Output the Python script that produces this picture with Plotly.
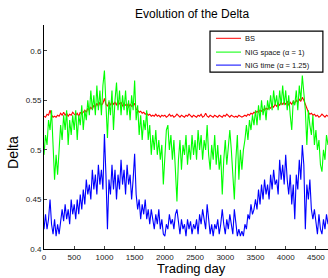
import plotly.graph_objects as go

step = 25
days = list(range(0, 4701, step))

bs = [
    0.534, 0.533, 0.536, 0.535, 0.540, 0.535, 0.533, 0.534, 0.533, 0.535, 0.534, 0.537, 0.535, 0.538, 0.535, 0.537, 0.534, 0.536, 0.535, 0.538,
    0.536, 0.535, 0.537, 0.534, 0.538, 0.536, 0.538, 0.540, 0.538, 0.542, 0.540, 0.543, 0.541, 0.545, 0.543, 0.547, 0.544, 0.548, 0.545, 0.547,
    0.552, 0.546, 0.544, 0.548, 0.545, 0.549, 0.546, 0.548, 0.545, 0.550, 0.546, 0.548, 0.544, 0.547, 0.545, 0.546, 0.543, 0.546, 0.544, 0.545,
    0.547, 0.541, 0.540, 0.538, 0.539, 0.537, 0.538, 0.536, 0.537, 0.535, 0.536, 0.534, 0.535, 0.534, 0.536, 0.534, 0.535, 0.533, 0.535, 0.534,
    0.535, 0.533, 0.534, 0.536, 0.534, 0.535, 0.533, 0.534, 0.536, 0.534, 0.533, 0.535, 0.534, 0.533, 0.535, 0.534, 0.536, 0.534, 0.533, 0.535,
    0.534, 0.533, 0.535, 0.534, 0.536, 0.533, 0.534, 0.537, 0.534, 0.533, 0.535, 0.534, 0.533, 0.535, 0.534, 0.533, 0.535, 0.534, 0.533, 0.535,
    0.534, 0.536, 0.534, 0.533, 0.535, 0.534, 0.533, 0.534, 0.533, 0.535, 0.534, 0.533, 0.534, 0.535, 0.534, 0.536, 0.535, 0.537, 0.536, 0.538,
    0.537, 0.539, 0.538, 0.540, 0.539, 0.541, 0.540, 0.542, 0.541, 0.543, 0.542, 0.545, 0.543, 0.546, 0.544, 0.547, 0.545, 0.548, 0.546, 0.548,
    0.546, 0.549, 0.545, 0.548, 0.546, 0.549, 0.547, 0.550, 0.548, 0.551, 0.549, 0.553, 0.550, 0.546, 0.540, 0.538, 0.536, 0.537, 0.535, 0.536,
    0.534, 0.535, 0.533, 0.534, 0.536, 0.534, 0.533, 0.535, 0.534,
]

nig_space = [
    0.495, 0.515, 0.505, 0.530, 0.520, 0.540, 0.505, 0.470, 0.495, 0.475, 0.500, 0.525, 0.510, 0.535, 0.520, 0.540, 0.505, 0.530, 0.515, 0.535,
    0.520, 0.540, 0.510, 0.535, 0.525, 0.545, 0.520, 0.540, 0.530, 0.550, 0.535, 0.560, 0.540, 0.555, 0.535, 0.565, 0.540, 0.560, 0.535, 0.565,
    0.580, 0.540, 0.512, 0.550, 0.535, 0.560, 0.520, 0.550, 0.568, 0.540, 0.560, 0.535, 0.555, 0.540, 0.560, 0.535, 0.550, 0.530, 0.555, 0.540,
    0.570, 0.530, 0.545, 0.515, 0.535, 0.510, 0.530, 0.520, 0.540, 0.510, 0.525, 0.495, 0.515, 0.500, 0.520, 0.495, 0.510, 0.490, 0.505, 0.465,
    0.500, 0.520, 0.525, 0.500, 0.515, 0.490, 0.510, 0.480, 0.448, 0.490, 0.510, 0.480, 0.505, 0.495, 0.515, 0.485, 0.505, 0.490, 0.515, 0.495,
    0.510, 0.490, 0.520, 0.500, 0.515, 0.490, 0.510, 0.500, 0.525, 0.495, 0.480, 0.505, 0.490, 0.515, 0.485, 0.505, 0.480, 0.495, 0.455, 0.490,
    0.510, 0.485, 0.505, 0.520, 0.500, 0.475, 0.450, 0.490, 0.515, 0.470, 0.500, 0.480, 0.500, 0.510, 0.525, 0.510, 0.530, 0.520, 0.535, 0.525,
    0.540, 0.525, 0.545, 0.530, 0.550, 0.535, 0.545, 0.530, 0.550, 0.540, 0.555, 0.540, 0.560, 0.545, 0.555, 0.540, 0.560, 0.545, 0.565, 0.545,
    0.560, 0.540, 0.555, 0.535, 0.520, 0.550, 0.545, 0.560, 0.540, 0.565, 0.550, 0.575, 0.560, 0.540, 0.505, 0.540, 0.525, 0.515, 0.535, 0.505,
    0.520, 0.500, 0.510, 0.485, 0.478, 0.500, 0.490, 0.515, 0.505,
]

nig_time = [
    0.420, 0.435, 0.420, 0.430, 0.450, 0.425, 0.415, 0.430, 0.413, 0.425, 0.415, 0.430, 0.440, 0.428, 0.445, 0.430, 0.440, 0.425, 0.450, 0.435,
    0.445, 0.430, 0.450, 0.435, 0.455, 0.440, 0.460, 0.445, 0.470, 0.455, 0.465, 0.450, 0.480, 0.460, 0.475, 0.455, 0.485, 0.465, 0.480, 0.460,
    0.516, 0.475, 0.420, 0.470, 0.455, 0.485, 0.460, 0.480, 0.450, 0.475, 0.460, 0.490, 0.465, 0.480, 0.455, 0.485, 0.465, 0.475, 0.450, 0.470,
    0.496, 0.455, 0.440, 0.450, 0.430, 0.445, 0.435, 0.450, 0.430, 0.440, 0.425, 0.440, 0.430, 0.420, 0.435, 0.425, 0.440, 0.420, 0.430, 0.415,
    0.413, 0.425, 0.420, 0.435, 0.425, 0.430, 0.420, 0.435, 0.440, 0.425, 0.415, 0.430, 0.420, 0.425, 0.413, 0.430, 0.420, 0.428, 0.415, 0.425,
    0.420, 0.430, 0.415, 0.435, 0.425, 0.440, 0.430, 0.420, 0.445, 0.430, 0.415, 0.425, 0.413, 0.425, 0.420, 0.430, 0.415, 0.425, 0.440, 0.425,
    0.415, 0.430, 0.420, 0.435, 0.425, 0.415, 0.440, 0.425, 0.413, 0.420, 0.413, 0.418, 0.413, 0.425, 0.420, 0.435, 0.430, 0.445, 0.435, 0.440,
    0.450, 0.440, 0.460, 0.445, 0.465, 0.450, 0.470, 0.455, 0.465, 0.450, 0.475, 0.460, 0.480, 0.465, 0.470, 0.455, 0.490, 0.470, 0.485, 0.465,
    0.495, 0.470, 0.455, 0.475, 0.445, 0.465, 0.430, 0.475, 0.460, 0.490, 0.470, 0.505, 0.485, 0.420, 0.465, 0.450, 0.470, 0.440, 0.430, 0.440,
    0.425, 0.415, 0.435, 0.420, 0.415, 0.430, 0.420, 0.435, 0.425,
]

series_names = ["BS", "NIG space (\u03b1 = 1)", "NIG time (\u03b1 = 1.25)"]
series_values = [bs, nig_space, nig_time]
series_colors = ["#ff0000", "#00ff00", "#0000ff"]

x_ticks = [0, 500, 1000, 1500, 2000, 2500, 3000, 3500, 4000, 4500]
y_ticks = [0.4, 0.45, 0.5, 0.55, 0.6]
y_tick_labels = ["0.4", "0.45", "0.5", "0.55", "0.6"]

fig = go.Figure()
for name, vals, col in zip(series_names, series_values, series_colors):
    fig.add_trace(go.Scatter(x=days, y=vals, mode="lines", name=name,
                             line=dict(color=col, width=1.1)))

# hand-drawn legend box (paper coordinates)
shapes = [dict(type="rect", xref="paper", yref="paper",
               x0=0.5845, x1=0.982, y0=0.790, y1=0.973,
               line=dict(color="black", width=1.2), fillcolor="white",
               layer="above")]
annotations = []
legend_rows = [0.9406, 0.879, 0.821]
for name, col, yy in zip(series_names, series_colors, legend_rows):
    shapes.append(dict(type="line", xref="paper", yref="paper",
                       x0=0.6056, x1=0.6937, y0=yy, y1=yy,
                       line=dict(color=col, width=1), layer="above"))
    annotations.append(dict(text=name, xref="paper", yref="paper",
                            x=0.7007, y=yy, xanchor="left", yanchor="middle",
                            showarrow=False, font=dict(size=7.5, color="#111")))

annotations += [
    dict(text="Evolution of the Delta", xref="paper", yref="paper",
         x=0.521, y=1.049, xanchor="center", yanchor="middle",
         showarrow=False, font=dict(size=12)),
    dict(text="Trading day", xref="paper", yref="paper",
         x=0.521, y=-0.089, xanchor="center", yanchor="middle",
         showarrow=False, font=dict(size=13)),
    dict(text="Delta", xref="paper", yref="paper",
         x=-0.109, y=0.429, xanchor="center", yanchor="middle",
         textangle=-90, showarrow=False, font=dict(size=14)),
]

font_family = "Liberation Sans, Arial, sans-serif"
fig.update_layout(
    width=328, height=278,
    margin=dict(l=44, r=0, t=25, b=29, autoexpand=False),
    paper_bgcolor="white", plot_bgcolor="white",
    font=dict(family=font_family, color="#000000", size=8),
    showlegend=False,
    xaxis=dict(range=[0, 4700], tickvals=x_ticks, ticks="inside", ticklen=3,
               showline=True, linecolor="black", linewidth=1, showgrid=False,
               zeroline=False, tickfont=dict(size=8, color="#222"), automargin=False),
    yaxis=dict(range=[0.4, 0.626], tickvals=y_ticks, ticktext=y_tick_labels,
               ticks="inside", ticklen=3,
               showline=True, linecolor="black", linewidth=1, showgrid=False,
               zeroline=False, tickfont=dict(size=8, color="#222"), automargin=False),
    shapes=shapes,
    annotations=annotations,
)

fig.write_html(
    "out.html",
    config={"displayModeBar": False},
    post_script="document.body.style.margin='0';document.body.style.padding='0';",
)
